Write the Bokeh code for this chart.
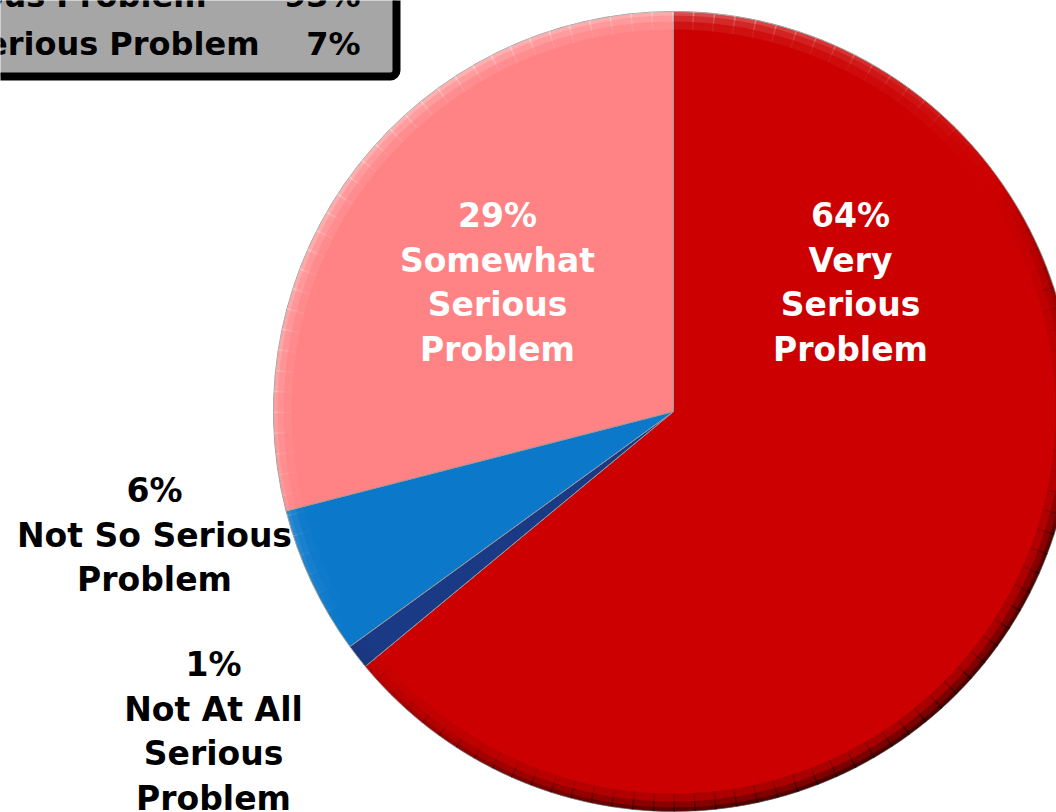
import math
from bokeh.plotting import figure
from bokeh.models import ColumnDataSource, Range1d, BoxAnnotation
from bokeh.core.properties import value
from bokeh.embed import file_html
from bokeh.resources import INLINE

# ---------------- data ----------------
categories = ["Very Serious Problem", "Not At All Serious Problem",
              "Not So Serious Problem", "Somewhat Serious Problem"]
percents = [64, 1, 6, 29]
slice_colors = ["#CC0000", "#1B3A85", "#0B78CA", "#FF8284"]
slice_labels = ["64%\nVery\nSerious\nProblem",
                "1%\nNot At All\nSerious\nProblem",
                "6%\nNot So Serious\nProblem",
                "29%\nSomewhat\nSerious\nProblem"]
label_colors = ["white", "black", "black", "white"]

summary_labels = ["Total Serious Problem", "Total Not Serious Problem"]
summary_values = ["93%", "7%"]

# ---------------- layout (page pixel coordinates) ----------------
W, H = 1056, 812
def Y(yp):
    return 812 - yp

CX, CY, R = 673, Y(411), 400
FONT = value("DejaVu Sans")

p = figure(width=W, height=H, output_backend="svg", toolbar_location=None,
           x_range=Range1d(0, 1056), y_range=Range1d(0, 812),
           min_border=0, outline_line_color=None, background_fill_color="white")
p.axis.visible = False
p.grid.visible = False

# ---- pie slices (clockwise from 12 o'clock) ----
total = sum(percents)
starts, ends = [], []
cum = 0
for v in percents:
    starts.append(math.pi / 2 - 2 * math.pi * cum / total)
    cum += v
    ends.append(math.pi / 2 - 2 * math.pi * cum / total)

src = ColumnDataSource(dict(cat=categories, pct=percents, color=slice_colors,
                            start=starts, end=ends))
p.wedge(x=CX, y=CY, radius=R, start_angle="start", end_angle="end",
        direction="clock", fill_color="color", line_color="#9a9a9a",
        line_width=1, source=src)

# ---- bevel/lighting ring (decoration) ----
nseg = 120
ring_a, ring_b, ring_col, ring_alpha = [], [], [], []
for i in range(nseg):
    a0 = 2 * math.pi * i / nseg
    a1 = 2 * math.pi * (i + 1) / nseg
    mid = (a0 + a1) / 2
    shade = math.cos(mid - math.radians(125))
    ring_a.append(a0)
    ring_b.append(a1 + 0.004)
    if shade >= 0:
        ring_col.append("white")
        ring_alpha.append(0.20 * shade)
    else:
        ring_col.append("black")
        ring_alpha.append(0.38 * (-shade))
for r_in, k in ((R - 18, 0.45), (R - 10, 0.7), (R - 4, 1.0)):
    p.annular_wedge(x=CX, y=CY, inner_radius=r_in, outer_radius=R,
                    start_angle=ring_a, end_angle=ring_b,
                    fill_color=ring_col, fill_alpha=[a * k for a in ring_alpha],
                    line_color=None)

# ---- slice labels ----
label_pos = [(850, 215), (213, 664), (154, 490), (497, 215)]   # centre x, first line
LINE = 44.5
tx, ty, tt, tc = [], [], [], []
for lab, col, (lx, ly) in zip(slice_labels, label_colors, label_pos):
    for j, line in enumerate(lab.split("\n")):
        tx.append(lx)
        ty.append(Y(ly + j * LINE))
        tt.append(line)
        tc.append(col)
p.text(x=tx, y=ty, text=tt, text_color=tc, text_font=FONT,
       text_font_style="bold", text_font_size="33px",
       text_align="center", text_baseline="alphabetic")

# ---- summary box (top-left, partly off page) ----
box = BoxAnnotation(left=-60, right=396, top=Y(-60), bottom=Y(76),
                    fill_color="#A6A6A6", fill_alpha=1.0,
                    line_color="black", line_alpha=1.0, line_width=8,
                    border_radius=6, level="underlay")
p.add_layout(box)
sum_label_right = [206, 259]
sum_base = [-5, 43]
p.text(x=sum_label_right, y=[Y(b) for b in sum_base], text=summary_labels,
       text_color="black", text_font=FONT, text_font_style="bold",
       text_font_size="32px", text_align="right", text_baseline="alphabetic")
p.text(x=[360, 360], y=[Y(b) for b in sum_base], text=summary_values,
       text_color="black", text_font=FONT, text_font_style="bold",
       text_font_size="32px", text_align="right", text_baseline="alphabetic")

open("out.html", "w").write(file_html(p, INLINE))
